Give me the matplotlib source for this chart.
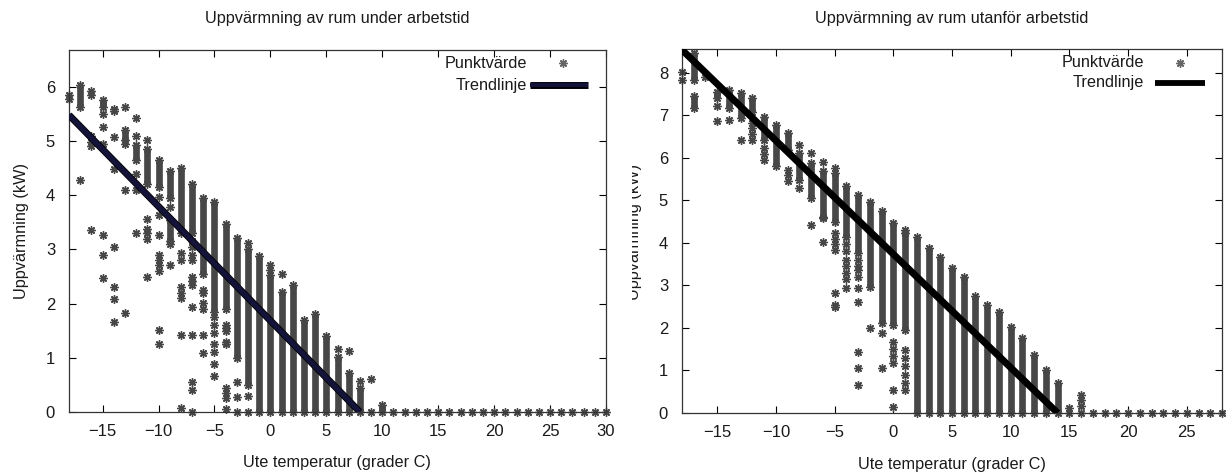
import matplotlib
matplotlib.use("Agg")
import matplotlib.pyplot as plt
import matplotlib.patheffects as pe
from matplotlib.patches import Rectangle

plt.rcParams['font.family'] = ['Liberation Sans', 'DejaVu Sans']

# DATA

# Left panel: under arbetstid
# dense runs of points per temperature: (temp, low, high)
left_dense = [
    (-17, 5.63, 6.03), (-15, 5.63, 5.76), (-13, 5.02, 5.20), (-12, 4.65, 4.93),
    (-11, 4.20, 4.86), (-10, 4.15, 4.65), (-9, 3.95, 4.45), (-9, 3.15, 3.55),
    (-8, 3.30, 4.50), (-7, 3.30, 4.20), (-6, 2.55, 3.95), (-5, 1.85, 3.88),
    (-4, 1.90, 3.47), (-3, 1.00, 3.22), (-2, 0.50, 3.00), (-1, 0.00, 2.88),
    (0, 0.00, 2.53), (1, 0.00, 2.22), (2, 0.00, 2.35), (3, 0.00, 1.70),
    (4, 0.00, 1.80), (5, 0.00, 1.40), (6, 0.00, 1.02), (7, 0.00, 0.72),
    (8, 0.00, 0.45), (10, 0.00, 0.12),
]
# single points per temperature
left_points = {
    -18: [5.85, 5.78],
    -17: [4.28],
    -16: [5.92, 5.85, 5.10, 4.98, 4.90, 3.35],
    -15: [5.50, 5.25, 4.95, 3.27, 2.90, 2.48],
    -14: [5.60, 5.55, 5.08, 4.48, 3.05, 2.30, 2.08, 1.67],
    -13: [5.63, 4.95, 4.10, 1.82],
    -12: [5.42, 5.10, 4.40, 4.10, 3.31],
    -11: [5.02, 3.57, 3.37, 3.30, 3.20, 2.50],
    -10: [3.97, 3.63, 3.27, 2.90, 2.80, 2.72, 2.60, 1.52, 1.25],
    -9: [3.78, 3.10, 2.72],
    -8: [2.93, 2.80, 2.30, 2.20, 2.10, 1.42, 0.08],
    -7: [3.15, 3.05, 2.90, 2.80, 2.50, 2.42, 2.35, 1.94, 1.42, 0.55, 0.40, 0.00],
    -6: [2.25, 2.20, 2.02, 1.90, 1.42, 1.08],
    -5: [1.75, 1.60, 1.45, 1.25, 1.10, 0.88, 0.67],
    -4: [1.60, 1.55, 1.50, 1.30, 1.25, 0.45, 0.35, 0.25, 0.05],
    -3: [0.55, 0.28, 0.00],
    -2: [3.12, 0.30, 0.00],
    0: [2.72, 2.62],
    1: [2.55],
    6: [1.17],
    7: [1.12],
    8: [0.57],
    9: [0.60, 0.00],
    11: [0.0], 12: [0.0], 13: [0.0], 14: [0.0], 15: [0.0], 16: [0.0], 17: [0.0],
    18: [0.0], 19: [0.0], 20: [0.0], 21: [0.0], 22: [0.0], 23: [0.0], 24: [0.0],
    25: [0.0], 26: [0.0], 27: [0.0], 28: [0.0], 29: [0.0], 30: [0.0],
}
left_trend_x = [-18.0, 8.0]
left_trend_y = [5.48, 0.0]

# Right panel: utanför arbetstid
right_dense = [
    (-17, 7.84, 8.46), (-17, 7.18, 7.45), (-15, 7.40, 7.56), (-14, 7.17, 7.60),
    (-13, 6.93, 7.52), (-12, 7.09, 7.40), (-11, 6.42, 6.97), (-10, 5.80, 6.78),
    (-9, 6.19, 6.58), (-8, 5.48, 6.11), (-7, 5.05, 5.87), (-6, 4.62, 5.68),
    (-5, 4.50, 5.64), (-4, 4.15, 5.33), (-3, 3.76, 5.13), (-2, 2.97, 4.97),
    (-1, 2.11, 4.74), (0, 2.07, 4.46), (1, 1.95, 4.23), (2, 0.00, 4.15),
    (3, 0.00, 3.87), (4, 0.00, 3.68), (5, 0.00, 3.40), (6, 0.00, 3.20),
    (7, 0.00, 2.74), (8, 0.00, 2.54), (9, 0.00, 2.38), (10, 0.00, 2.03),
    (11, 0.00, 1.76), (12, 0.00, 1.36), (13, 0.00, 1.01), (14, 0.00, 0.70),
]
right_points = {
    -18: [8.03, 7.84],
    -16: [7.90],
    -15: [7.21, 6.87],
    -14: [6.90],
    -13: [6.42],
    -12: [6.82, 6.70, 6.55, 6.42],
    -11: [6.23, 6.10, 5.95],
    -9: [5.72, 5.60, 5.45],
    -8: [6.31, 5.29],
    -7: [6.11, 4.42],
    -6: [5.91, 4.58, 4.03],
    -5: [5.76, 4.23, 4.10, 3.98, 3.84, 2.82, 2.55, 2.50],
    -4: [3.98, 3.80, 3.60, 3.45, 3.30, 3.15, 2.95],
    -3: [3.60, 3.45, 3.36, 3.20, 2.93, 2.62, 1.44, 1.05, 0.66],
    -2: [1.99],
    -1: [1.87, 1.05],
    0: [1.68, 1.50, 1.35, 1.17, 0.54, 0.15],
    1: [4.31, 1.48, 1.30, 1.10, 0.90, 0.70, 0.54],
    15: [0.12, 0.0],
    16: [0.43, 0.30, 0.16, 0.0],
    17: [0.0], 18: [0.0], 19: [0.0], 20: [0.0], 21: [0.0], 22: [0.0],
    23: [0.0], 24: [0.0], 25: [0.0], 26: [0.0], 27: [0.0], 28: [0.0],
}
right_trend_x = [-18.0, 14.0]
right_trend_y = [8.54, 0.0]

# STYLE

W, H = 1226, 474
STAR = (8, 2, 0)
PT_COLOR = '#474747'
TXT = '#1a1a1a'
FS = 11.7
MS = 6.0
MEW = 1.0


def px(x, y):
    return x / W, 1 - y / H


def draw_panel(ax, dense, points, trend_x, trend_y, line_color, line_width,
               outline, xlim, ylim, xticks, yticks, legend_pos):
    for t, lo, hi in dense:
        ax.vlines(t, lo, hi, colors=PT_COLOR, linewidth=4.8, capstyle='butt', zorder=2)
        ax.plot([t, t], [lo, hi], ls='none', marker=STAR, ms=MS, mec=PT_COLOR,
                mew=MEW, clip_on=False, zorder=2)

    xs = [t for t, vals in points.items() for v in vals]
    ys = [v for t, vals in points.items() for v in vals]
    ax.plot(xs, ys, ls='none', marker=STAR, ms=MS, mec=PT_COLOR, mew=MEW,
            clip_on=False, zorder=2)

    effects = [pe.Stroke(linewidth=line_width + 1.2, foreground='black'), pe.Normal()] if outline else None
    ax.plot(trend_x, trend_y, color=line_color, lw=line_width,
            solid_capstyle='butt', zorder=3, path_effects=effects)

    ax.set_xlim(*xlim)
    ax.set_ylim(*ylim)
    ax.set_xticks(xticks)
    ax.set_yticks(yticks)
    ax.tick_params(direction='in', length=5, width=0.8, top=True, right=True,
                   labelsize=12, labelcolor=TXT)
    ax.tick_params(axis='x', pad=8.5)
    ax.tick_params(axis='y', pad=10)
    for s in ax.spines.values():
        s.set_linewidth(0.9)
        s.set_color('#333333')

    # gnuplot style key, text right aligned, sample on the right
    tx, sx, lx0, lx1, y1, y2 = legend_pos
    ax.text(tx, y1, 'Punktvärde', ha='right', va='center', fontsize=FS,
            color=TXT, transform=ax.transAxes)
    ax.text(tx, y2, 'Trendlinje', ha='right', va='center', fontsize=FS,
            color=TXT, transform=ax.transAxes)
    ax.plot([sx], [y1], ls='none', marker=STAR, ms=MS, mec='#666666', mew=MEW,
            transform=ax.transAxes, clip_on=False)
    ax.plot([lx0, lx1], [y2, y2], color=line_color, lw=line_width - 0.8,
            solid_capstyle='butt', transform=ax.transAxes, clip_on=False,
            path_effects=effects)


fig = plt.figure(figsize=(W / 100, H / 100), dpi=100)

ax1 = fig.add_axes([69 / W, 1 - 412 / H, 537 / W, 362 / H])
draw_panel(ax1, left_dense, left_points, left_trend_x, left_trend_y,
           '#14143a', 3.8, True, (-18, 30), (0, 6.68),
           [-15, -10, -5, 0, 5, 10, 15, 20, 25, 30], [0, 1, 2, 3, 4, 5, 6],
           (0.853, 0.919, 0.859, 0.966, 0.964, 0.903))

ax2 = fig.add_axes([682 / W, 1 - 413 / H, 540 / W, 364 / H])
draw_panel(ax2, right_dense, right_points, right_trend_x, right_trend_y,
           'black', 5.0, False, (-18, 28), (0, 8.56),
           [-15, -10, -5, 0, 5, 10, 15, 20, 25], [0, 1, 2, 3, 4, 5, 6, 7, 8],
           (0.856, 0.922, 0.876, 0.969, 0.962, 0.907))

# titles and axis labels
fig.text(*px(337, 19), 'Uppvärmning av rum under arbetstid', ha='center',
         va='center', fontsize=FS, color=TXT)
fig.text(*px(952, 19), 'Uppvärmning av rum utanför arbetstid', ha='center',
         va='center', fontsize=FS, color=TXT)
fig.text(*px(337, 463), 'Ute temperatur (grader C)', ha='center', va='center',
         fontsize=FS, color=TXT)
fig.text(*px(952, 465), 'Ute temperatur (grader C)', ha='center', va='center',
         fontsize=FS, color=TXT)
fig.text(*px(22, 231), 'Uppvärmning (kW)', ha='center', va='center',
         rotation=90, fontsize=FS, color=TXT)
fig.text(*px(634, 232), 'Uppvärmning (kW)', ha='center', va='center',
         rotation=90, fontsize=FS, color=TXT)

# the right panel's image covers part of its own y label
fig.add_artist(Rectangle(px(617, 474), 15 / W, 1, transform=fig.transFigure,
                         facecolor='white', edgecolor='none', zorder=10))

fig.savefig('out.png', dpi=100)
